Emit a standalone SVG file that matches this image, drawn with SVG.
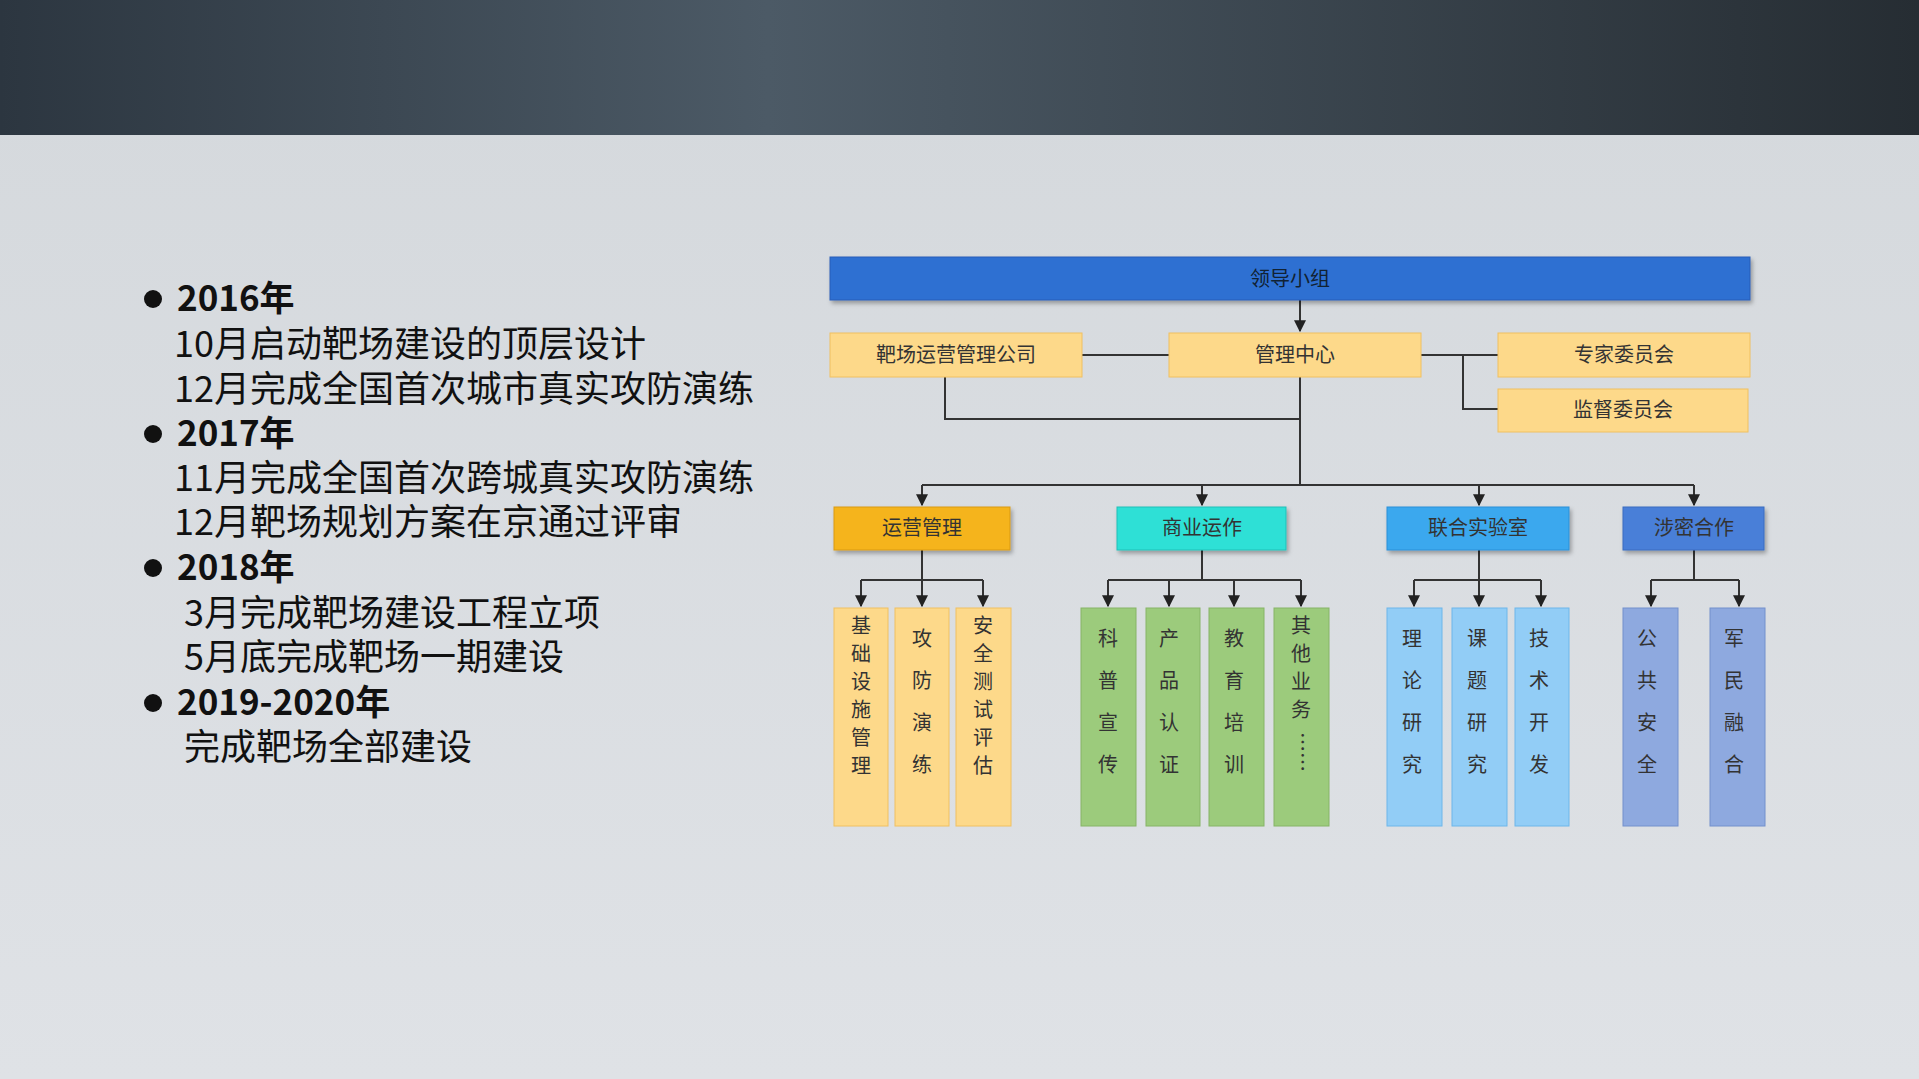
<svg xmlns="http://www.w3.org/2000/svg" width="1919" height="1079" viewBox="0 0 1919 1079">
<defs>
<linearGradient id="bg" x1="0" y1="0" x2="0" y2="1"><stop offset="0" stop-color="#d4d8dc"/><stop offset="1" stop-color="#dfe2e6"/></linearGradient>
<linearGradient id="hd" x1="0" y1="0" x2="1" y2="0"><stop offset="0" stop-color="#2c3640"/><stop offset="0.4" stop-color="#4c5a66"/><stop offset="1" stop-color="#262d33"/></linearGradient>
<marker id="ar" viewBox="0 0 10 10" refX="9" refY="5" markerWidth="6" markerHeight="6" orient="auto"><path d="M0,0L10,5L0,10z" fill="#222"/></marker>
<filter id="sh" x="-5%" y="-20%" width="110%" height="150%"><feDropShadow dx="2" dy="3" stdDeviation="2" flood-color="#000" flood-opacity="0.3"/></filter>
</defs>
<style>
.t{font-family:"Noto Sans CJK SC",sans-serif;font-size:20px;fill:#333;text-anchor:middle}
.h{font-family:"Noto Sans CJK SC",sans-serif;font-size:36px;fill:#111}
.y{font-family:"Noto Sans CJK SC",sans-serif;font-size:35px;font-weight:bold;fill:#111}
.c{fill:none;stroke:#333;stroke-width:2}
.a{fill:none;stroke:#333;stroke-width:2;marker-end:url(#ar)}
.o{fill:#fdd98a;stroke:#f0c060}
.g{fill:#9ccb7c;stroke:#86b466}
.b{fill:#92cdf6;stroke:#6db6ea}
.p{fill:#8ea9df;stroke:#7390cc}
</style>
<rect width="1919" height="1079" fill="url(#bg)"/>
<rect width="1919" height="135" fill="url(#hd)"/>
<g id="left">
<circle cx="153" cy="299" r="9" fill="#111"/><text class="y" x="177" y="311">2016年</text>
<text class="h" x="174" y="357">10月启动靶场建设的顶层设计</text>
<text class="h" x="174" y="402">12月完成全国首次城市真实攻防演练</text>
<circle cx="153" cy="434" r="9" fill="#111"/><text class="y" x="177" y="446">2017年</text>
<text class="h" x="174" y="491">11月完成全国首次跨城真实攻防演练</text>
<text class="h" x="174" y="535">12月靶场规划方案在京通过评审</text>
<circle cx="153" cy="568" r="9" fill="#111"/><text class="y" x="177" y="580">2018年</text>
<text class="h" x="184" y="626">3月完成靶场建设工程立项</text>
<text class="h" x="184" y="670">5月底完成靶场一期建设</text>
<circle cx="153" cy="703" r="9" fill="#111"/><text class="y" x="177" y="715">2019-2020年</text>
<text class="h" x="184" y="760">完成靶场全部建设</text>
</g>
<g id="connectors">
<path class="a" d="M1300,300V331"/>
<path class="c" d="M1082,355H1169M1421,355H1498M1463,355V409H1498M945,377V419H1300M1300,377V485M922,485H1694"/>
<path class="a" d="M922,485V505"/><path class="a" d="M1202,485V505"/><path class="a" d="M1479,485V505"/><path class="a" d="M1694,485V505"/>
<path class="c" d="M922,550V580M861,580H983M1202,550V580M1108,580H1301M1479,550V580M1414,580H1541M1694,550V580M1651,580H1739"/>
<path class="a" d="M861,580V606"/><path class="a" d="M922,580V606"/><path class="a" d="M983,580V606"/>
<path class="a" d="M1108,580V606"/><path class="a" d="M1169,580V606"/><path class="a" d="M1234,580V606"/><path class="a" d="M1301,580V606"/>
<path class="a" d="M1414,580V606"/><path class="a" d="M1479,580V606"/><path class="a" d="M1541,580V606"/>
<path class="a" d="M1651,580V606"/><path class="a" d="M1739,580V606"/>
</g>
<g id="n-top"><rect x="830" y="257" width="920" height="43" fill="#2f6fd2" stroke="#2a5fb8" filter="url(#sh)"/><text class="t" x="1290" y="286" style="fill:#123">领导小组</text></g>
<g id="n-company"><rect class="o" x="830" y="333" width="252" height="44"/><text class="t" x="956" y="362">靶场运营管理公司</text></g>
<g id="n-center"><rect class="o" x="1169" y="333" width="252" height="44"/><text class="t" x="1295" y="362">管理中心</text></g>
<g id="n-expert"><rect class="o" x="1498" y="333" width="252" height="44"/><text class="t" x="1624" y="362">专家委员会</text></g>
<g id="n-super"><rect class="o" x="1498" y="389" width="250" height="43"/><text class="t" x="1623" y="417">监督委员会</text></g>
<g id="n-ops"><rect x="834" y="507" width="176" height="43" fill="#f5b41c" stroke="#d99a10" filter="url(#sh)"/><text class="t" x="922" y="535">运营管理</text></g>
<g id="n-biz"><rect x="1117" y="507" width="169" height="43" fill="#2fe0d6" stroke="#20c0b8" filter="url(#sh)"/><text class="t" x="1202" y="535">商业运作</text></g>
<g id="n-lab"><rect x="1387" y="507" width="182" height="43" fill="#3aa8ee" stroke="#2a90d8" filter="url(#sh)"/><text class="t" x="1478" y="535">联合实验室</text></g>
<g id="n-sec"><rect x="1623" y="507" width="141" height="43" fill="#4a7fd8" stroke="#3a6cc0" filter="url(#sh)"/><text class="t" x="1694" y="535">涉密合作</text></g>
<g id="l1"><rect class="o" x="834" y="608" width="54" height="218"/><text class="t"><tspan x="861" y="633">基</tspan><tspan x="861" y="661">础</tspan><tspan x="861" y="689">设</tspan><tspan x="861" y="717">施</tspan><tspan x="861" y="745">管</tspan><tspan x="861" y="773">理</tspan></text></g>
<g id="l2"><rect class="o" x="895" y="608" width="54" height="218"/><text class="t"><tspan x="922" y="646">攻</tspan><tspan x="922" y="688">防</tspan><tspan x="922" y="730">演</tspan><tspan x="922" y="772">练</tspan></text></g>
<g id="l3"><rect class="o" x="956" y="608" width="55" height="218"/><text class="t"><tspan x="983" y="633">安</tspan><tspan x="983" y="661">全</tspan><tspan x="983" y="689">测</tspan><tspan x="983" y="717">试</tspan><tspan x="983" y="745">评</tspan><tspan x="983" y="773">估</tspan></text></g>
<g id="l4"><rect class="g" x="1081" y="608" width="55" height="218"/><text class="t"><tspan x="1108" y="646">科</tspan><tspan x="1108" y="688">普</tspan><tspan x="1108" y="730">宣</tspan><tspan x="1108" y="772">传</tspan></text></g>
<g id="l5"><rect class="g" x="1146" y="608" width="54" height="218"/><text class="t"><tspan x="1169" y="646">产</tspan><tspan x="1169" y="688">品</tspan><tspan x="1169" y="730">认</tspan><tspan x="1169" y="772">证</tspan></text></g>
<g id="l6"><rect class="g" x="1209" y="608" width="55" height="218"/><text class="t"><tspan x="1234" y="646">教</tspan><tspan x="1234" y="688">育</tspan><tspan x="1234" y="730">培</tspan><tspan x="1234" y="772">训</tspan></text></g>
<g id="l7"><rect class="g" x="1274" y="608" width="55" height="218"/><text class="t"><tspan x="1301" y="633">其</tspan><tspan x="1301" y="661">他</tspan><tspan x="1301" y="689">业</tspan><tspan x="1301" y="717">务</tspan></text><text class="t" transform="translate(1301,752) rotate(90)" x="0" y="6">……</text></g>
<g id="l8"><rect class="b" x="1387" y="608" width="55" height="218"/><text class="t"><tspan x="1412" y="646">理</tspan><tspan x="1412" y="688">论</tspan><tspan x="1412" y="730">研</tspan><tspan x="1412" y="772">究</tspan></text></g>
<g id="l9"><rect class="b" x="1452" y="608" width="55" height="218"/><text class="t"><tspan x="1477" y="646">课</tspan><tspan x="1477" y="688">题</tspan><tspan x="1477" y="730">研</tspan><tspan x="1477" y="772">究</tspan></text></g>
<g id="l10"><rect class="b" x="1515" y="608" width="54" height="218"/><text class="t"><tspan x="1539" y="646">技</tspan><tspan x="1539" y="688">术</tspan><tspan x="1539" y="730">开</tspan><tspan x="1539" y="772">发</tspan></text></g>
<g id="l11"><rect class="p" x="1623" y="608" width="55" height="218"/><text class="t"><tspan x="1647" y="646">公</tspan><tspan x="1647" y="688">共</tspan><tspan x="1647" y="730">安</tspan><tspan x="1647" y="772">全</tspan></text></g>
<g id="l12"><rect class="p" x="1710" y="608" width="55" height="218"/><text class="t"><tspan x="1734" y="646">军</tspan><tspan x="1734" y="688">民</tspan><tspan x="1734" y="730">融</tspan><tspan x="1734" y="772">合</tspan></text></g>
</svg>
